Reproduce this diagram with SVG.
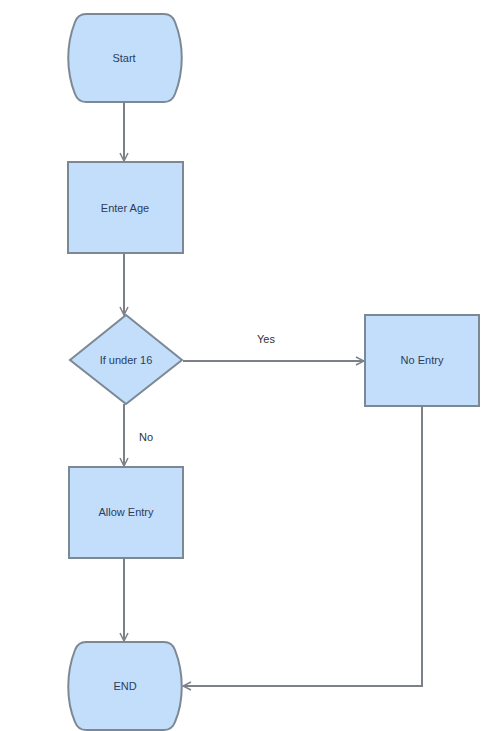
<svg xmlns="http://www.w3.org/2000/svg" width="493" height="731" viewBox="0 0 493 731">
<style>
.shape{fill:#c2defb;stroke:#7c8894;stroke-width:2}
.lbl{font-family:"Liberation Sans",Arial,sans-serif;font-size:11px;fill:#2c3c5c;text-anchor:middle}
.edge{fill:none;stroke:#7c8088;stroke-width:2}
.elbl{font-family:"Liberation Sans",Arial,sans-serif;font-size:11px;fill:#333;text-anchor:middle}
</style>
<defs>
<marker id="arr" viewBox="0 0 10 10" refX="9" refY="5" markerWidth="10" markerHeight="10" markerUnits="userSpaceOnUse" orient="auto">
<path d="M1,1 L9,5 L1,9" fill="none" stroke="#7c8088" stroke-width="1.5"/>
</marker>
</defs>
<rect width="493" height="731" fill="#ffffff"/>
<g id="connectors">
<line class="edge" x1="124" y1="102" x2="124" y2="161" marker-end="url(#arr)"/>
<line class="edge" x1="124" y1="253" x2="124" y2="315" marker-end="url(#arr)"/>
<line class="edge" x1="183" y1="361" x2="364" y2="361" marker-end="url(#arr)"/>
<text class="elbl" x="266" y="343">Yes</text>
<line class="edge" x1="124" y1="404" x2="124" y2="466" marker-end="url(#arr)"/>
<text class="elbl" x="146" y="441">No</text>
<line class="edge" x1="124" y1="558" x2="124" y2="641" marker-end="url(#arr)"/>
<polyline class="edge" points="422,406 422,686 183,686" marker-end="url(#arr)"/>
</g>
<g id="start">
<path class="shape" d="M86,14 L164,14 Q172,14 175,22 C184,45 184,71 175,94 Q172,102 164,102 L86,102 Q78,102 75,94 C66,71 66,45 75,22 Q78,14 86,14 Z"/>
<text class="lbl" x="124" y="62">Start</text>
</g>
<g id="enter-age">
<rect class="shape" x="68" y="162" width="115" height="91"/>
<text class="lbl" x="125" y="212">Enter Age</text>
</g>
<g id="if-under-16">
<polygon class="shape" points="126,315 182,360 126,404 70,360"/>
<text class="lbl" x="126" y="364">If under 16</text>
</g>
<g id="no-entry">
<rect class="shape" x="365" y="315" width="114" height="91"/>
<text class="lbl" x="422" y="364">No Entry</text>
</g>
<g id="allow-entry">
<rect class="shape" x="69" y="467" width="114" height="91"/>
<text class="lbl" x="126" y="516">Allow Entry</text>
</g>
<g id="end">
<path class="shape" d="M86,642 L164,642 Q172,642 175,650 C184,673 184,701 175,722 Q172,730 164,730 L86,730 Q78,730 75,722 C66,701 66,673 75,650 Q78,642 86,642 Z"/>
<text class="lbl" x="125" y="690">END</text>
</g>
</svg>
